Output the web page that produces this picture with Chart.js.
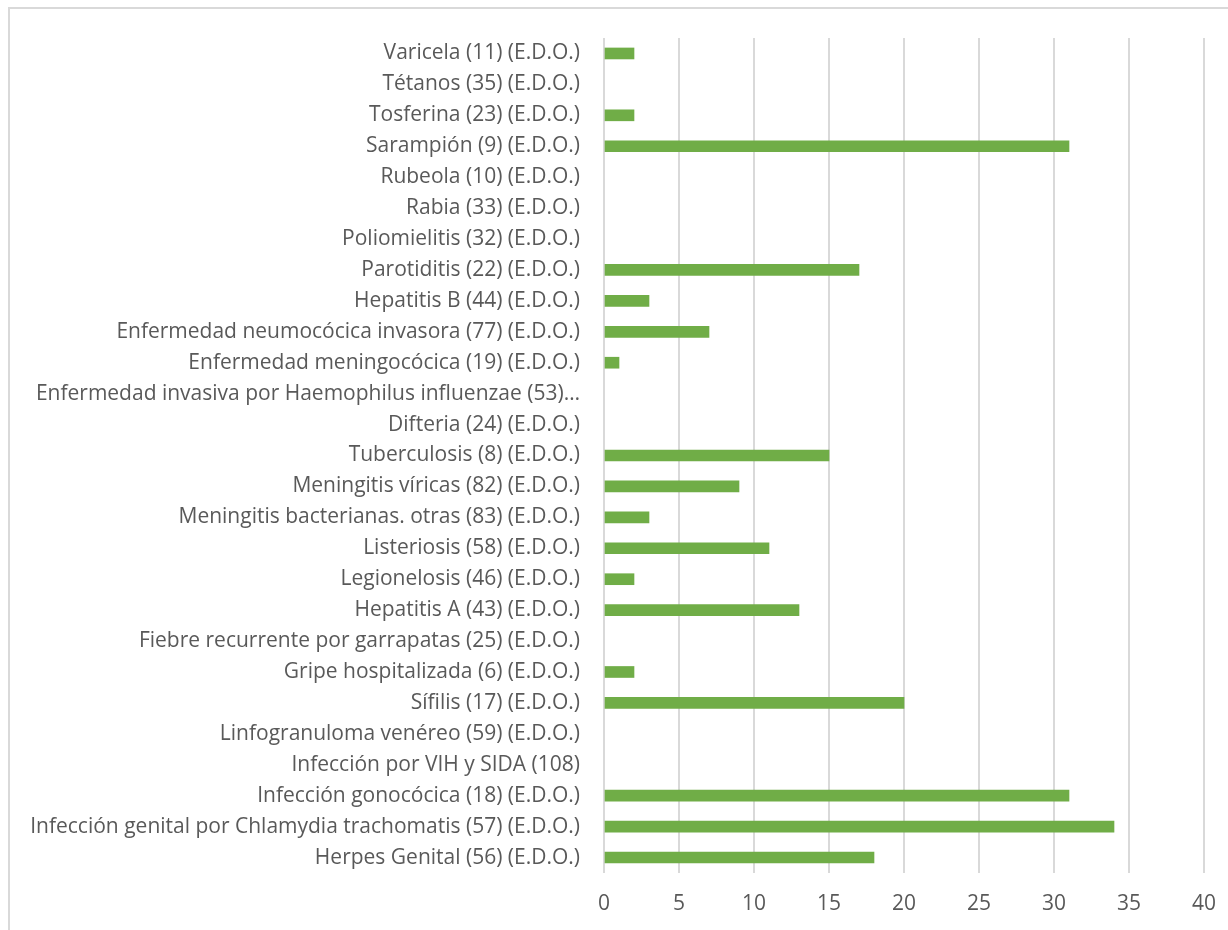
<!DOCTYPE html>
<html>
<head>
<meta charset="utf-8">
<script src="https://cdn.jsdelivr.net/npm/chart.js@4"></script>
<style>
  html, body { margin: 0; padding: 0; background: #fff; overflow: hidden; }
  #frame {
    position: absolute; left: 8px; top: 7px; width: 1240px; height: 950px;
    border: 2px solid #d9d9d9; box-sizing: border-box;
  }
  #wrap { position: absolute; left: 0; top: 0; width: 1228px; height: 930px; }
</style>
</head>
<body>
<div id="frame"></div>
<div id="wrap"><canvas id="chart"></canvas></div>
<script>
const diseases = [
    'Varicela (11) (E.D.O.)',
    'Tétanos (35) (E.D.O.)',
    'Tosferina (23) (E.D.O.)',
    'Sarampión (9) (E.D.O.)',
    'Rubeola (10) (E.D.O.)',
    'Rabia (33) (E.D.O.)',
    'Poliomielitis (32) (E.D.O.)',
    'Parotiditis (22) (E.D.O.)',
    'Hepatitis B (44) (E.D.O.)',
    'Enfermedad neumocócica invasora (77) (E.D.O.)',
    'Enfermedad meningocócica (19) (E.D.O.)',
    'Enfermedad invasiva por Haemophilus influenzae (53) (E.D.O.)',
    'Difteria (24) (E.D.O.)',
    'Tuberculosis (8) (E.D.O.)',
    'Meningitis víricas (82) (E.D.O.)',
    'Meningitis bacterianas. otras (83) (E.D.O.)',
    'Listeriosis (58) (E.D.O.)',
    'Legionelosis (46) (E.D.O.)',
    'Hepatitis A (43) (E.D.O.)',
    'Fiebre recurrente por garrapatas (25) (E.D.O.)',
    'Gripe hospitalizada (6) (E.D.O.)',
    'Sífilis (17) (E.D.O.)',
    'Linfogranuloma venéreo (59) (E.D.O.)',
    'Infección por VIH y SIDA (108)',
    'Infección gonocócica (18) (E.D.O.)',
    'Infección genital por Chlamydia trachomatis (57) (E.D.O.)',
    'Herpes Genital (56) (E.D.O.)'
];
const cases = [2, 0, 2, 31, 0, 0, 0, 17, 3, 7, 1, 0, 0, 15, 9, 3, 11, 2, 13, 0, 2, 20, 0, 0, 31, 34, 18];
const xTicks = [0, 5, 10, 15, 20, 25, 30, 35, 40];

const textColor = '#595959';
const gridColor = '#d9d9d9';
const labelFont = { family: 'Open Sans', size: 21 };

new Chart(document.getElementById('chart'), {
    type: 'bar',
    data: {
        labels: diseases,
        datasets: [{
            data: cases,
            // zero rows leave no sliver
            backgroundColor: cases.map(v => v > 0 ? '#70ad47' : 'rgba(0,0,0,0)'),
            barThickness: 11
        }]
    },
    options: {
        indexAxis: 'y',
        responsive: true,
        maintainAspectRatio: false,
        animation: false,
        layout: { padding: { top: 38, right: 24, left: 0, bottom: 0 } },
        plugins: { legend: { display: false }, tooltip: { enabled: false } },
        scales: {
            x: {
                min: 0,
                max: 40,
                afterBuildTicks: (scale) => { scale.ticks = xTicks.map(v => ({ value: v })); },
                grid: { color: gridColor, lineWidth: 2, drawTicks: false },
                border: { display: false },
                ticks: { color: textColor, font: labelFont, padding: 18 },
                afterFit: (scale) => {
                    scale.height = 57;
                    scale.paddingLeft = 0;
                    scale.paddingRight = 0;
                }
            },
            y: {
                grid: { display: false, drawTicks: false },
                border: { display: false },
                ticks: {
                    color: textColor,
                    font: labelFont,
                    padding: 24,
                    autoSkip: false,
                    callback: function (value) {
                        const label = this.getLabelForValue(value);
                        return label.length > 58 ? label.slice(0, 51) + '…' : label;
                    }
                },
                afterFit: (scale) => { scale.width = 604; }
            }
        }
    }
});
</script>
</body>
</html>
